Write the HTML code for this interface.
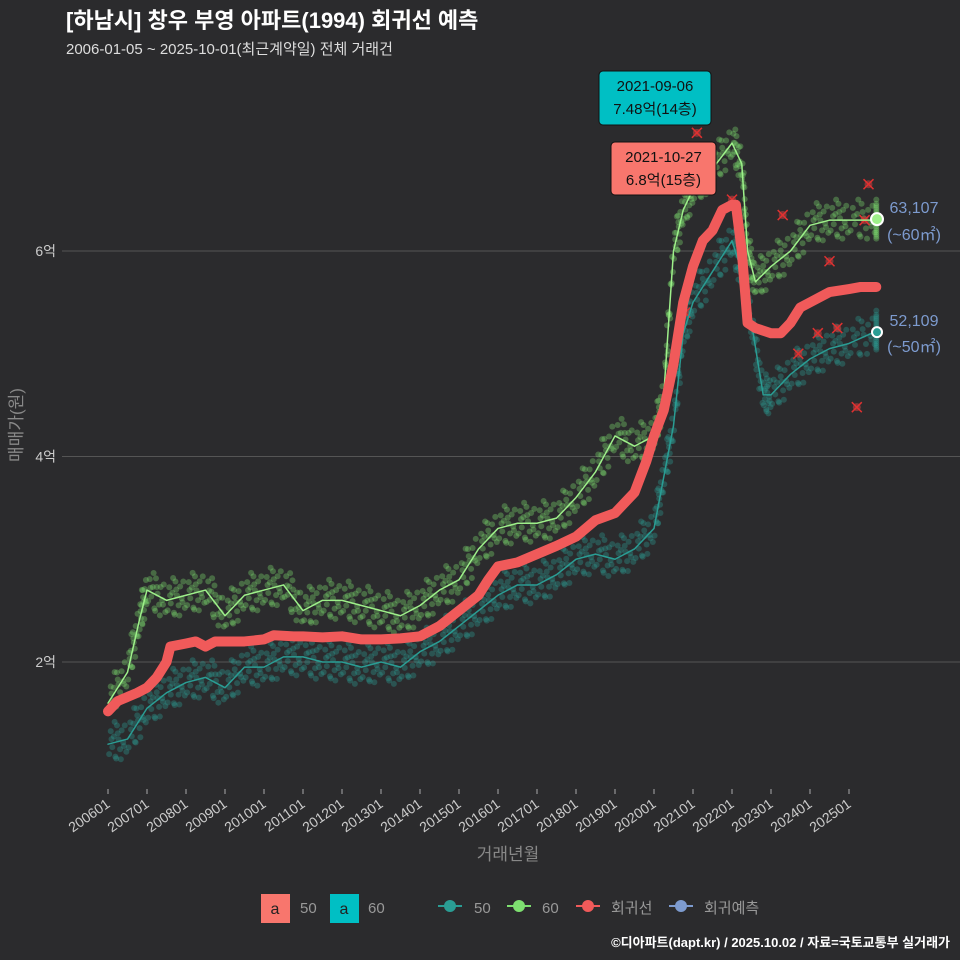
<!DOCTYPE html>
<html><head><meta charset="utf-8"><style>
body{margin:0;background:#2b2b2d;}
svg{display:block;font-family:"Liberation Sans","Noto Sans CJK KR",sans-serif;}
</style></head><body>
<svg id="c" width="960" height="960" viewBox="0 0 960 960">
<rect width="960" height="960" fill="#2b2b2d"/>
<text x="66" y="28" font-size="22" font-weight="bold" fill="#fff">[하남시] 창우 부영 아파트(1994) 회귀선 예측</text>
<text x="66" y="54" font-size="15" fill="#ddd">2006-01-05 ~ 2025-10-01(최근계약일) 전체 거래건</text>
<g id="grid"></g><g id="dots"></g><g id="lines"></g><g id="axes"></g><g id="ann"></g>
<text x="22" y="425" font-size="17" fill="#888" text-anchor="middle" transform="rotate(-90 22 425)">매매가(원)</text>
<text x="508" y="860" font-size="17" fill="#888" text-anchor="middle">거래년월</text>
<g>
<rect x="261" y="894" width="29" height="29" fill="#f8766d"/><text x="275" y="914" font-size="16" text-anchor="middle" fill="#222">a</text><text x="300" y="913" font-size="15" fill="#999">50</text>
<rect x="330" y="894" width="29" height="29" fill="#00bfc4"/><text x="344" y="914" font-size="16" text-anchor="middle" fill="#222">a</text><text x="368" y="913" font-size="15" fill="#999">60</text>
<line x1="438" y1="906" x2="462" y2="906" stroke="#2a9d94" stroke-width="2"/><circle cx="450" cy="906" r="6" fill="#2a9d94"/><text x="474" y="913" font-size="15" fill="#999">50</text>
<line x1="507" y1="906" x2="531" y2="906" stroke="#7ee070" stroke-width="2"/><circle cx="519" cy="906" r="6" fill="#7ee070"/><text x="542" y="913" font-size="15" fill="#999">60</text>
<line x1="576" y1="906" x2="600" y2="906" stroke="#f05a5a" stroke-width="2"/><circle cx="588" cy="906" r="6" fill="#f05a5a"/><text x="611" y="913" font-size="15" fill="#999">회귀선</text>
<line x1="669" y1="906" x2="693" y2="906" stroke="#7d9bcf" stroke-width="2"/><circle cx="681" cy="906" r="6" fill="#7d9bcf"/><text x="704" y="913" font-size="15" fill="#999">회귀예측</text>
</g>
<text x="950" y="947" font-size="13" font-weight="bold" fill="#fff" text-anchor="end">©디아파트(dapt.kr) / 2025.10.02 / 자료=국토교통부 실거래가</text>
</svg>
<script>
const yTicks=[2,4,6];
const yTickLabels=["2억","4억","6억"];
const xTicks=["200601","200701","200801","200901","201001","201101","201201","201301","201401","201501","201601","201701","201801","201901","202001","202101","202201","202301","202401","202501"];
const regT=[2006,2006.25,2006.5,2006.75,2007,2007.25,2007.5,2007.6,2008,2008.25,2008.5,2008.75,2009,2009.5,2010,2010.25,2010.75,2011,2011.5,2012,2012.5,2013,2013.5,2014,2014.5,2015,2015.5,2015.75,2016,2016.5,2017,2017.5,2018,2018.5,2019,2019.5,2019.8,2020,2020.25,2020.5,2020.75,2021,2021.25,2021.5,2021.75,2022,2022.1,2022.25,2022.4,2022.6,2023,2023.25,2023.5,2023.75,2024,2024.5,2025,2025.3,2025.7];
const regV=[1.52,1.62,1.66,1.7,1.75,1.85,2.0,2.15,2.18,2.2,2.15,2.2,2.2,2.2,2.22,2.26,2.25,2.25,2.24,2.25,2.22,2.22,2.23,2.25,2.35,2.5,2.65,2.8,2.93,2.97,3.05,3.13,3.22,3.38,3.45,3.65,3.95,4.2,4.45,4.9,5.5,5.85,6.1,6.2,6.4,6.45,6.45,6.0,5.3,5.25,5.2,5.2,5.3,5.45,5.5,5.6,5.63,5.65,5.65];
const g60T=[2006,2006.5,2006.8,2007,2007.5,2008,2008.5,2009,2009.5,2010,2010.5,2011,2011.5,2012,2012.5,2013,2013.5,2014,2014.5,2015,2015.5,2016,2016.5,2017,2017.5,2018,2018.5,2019,2019.5,2020,2020.25,2020.5,2020.75,2021,2021.5,2022,2022.25,2022.4,2022.6,2023,2023.5,2024,2024.5,2025,2025.7];
const g60V=[1.6,1.9,2.4,2.7,2.6,2.65,2.7,2.45,2.65,2.7,2.75,2.5,2.6,2.6,2.55,2.5,2.45,2.55,2.7,2.8,3.1,3.3,3.35,3.35,3.4,3.6,3.85,4.2,4.1,4.2,4.6,6.0,6.4,6.6,6.8,7.05,6.85,6.0,5.7,5.85,6.0,6.25,6.3,6.3,6.3];
const g50T=[2006,2006.5,2007,2007.5,2008,2008.5,2009,2009.5,2010,2010.5,2011,2011.5,2012,2012.5,2013,2013.5,2014,2014.5,2015,2015.5,2016,2016.5,2017,2017.5,2018,2018.5,2019,2019.5,2020,2020.25,2020.5,2020.75,2021,2021.5,2022,2022.25,2022.5,2022.8,2023,2023.5,2024,2024.5,2025,2025.7];
const g50V=[1.2,1.25,1.55,1.7,1.8,1.85,1.75,1.95,1.95,2.05,2.05,2.0,2.0,1.95,2.0,1.95,2.1,2.2,2.35,2.5,2.65,2.75,2.75,2.85,3.0,3.05,3.0,3.1,3.3,3.8,4.3,5.2,5.5,5.8,6.1,5.8,5.3,4.6,4.6,4.8,4.95,5.05,5.1,5.22];
const xMarkT=[2020.8,2021.1,2022.0,2023.3,2023.7,2024.2,2024.5,2024.7,2025.2,2025.4,2025.5];
const xMarkV=[5.4,7.15,6.5,6.35,5.0,5.2,5.9,5.25,4.48,6.3,6.65];
const X=t=>108+39*(t-2006), Y=v=>662-(v-2)*102.75;
const NS="http://www.w3.org/2000/svg";
function mk(tag,p,a){const e=document.createElementNS(NS,tag);for(const k in a)e.setAttribute(k,a[k]);p.appendChild(e);return e;}
const grid=document.getElementById('grid'),axes=document.getElementById('axes'),dots=document.getElementById('dots'),lines=document.getElementById('lines'),ann=document.getElementById('ann');
yTicks.forEach((v,i)=>{const l=mk('line',grid,{x1:62,x2:960,y1:Y(v),y2:Y(v),stroke:'#555','stroke-width':1});


const t=mk('text',axes,{x:56,y:Y(v)+5,'font-size':14,fill:'#ccc','text-anchor':'end'});t.textContent=yTickLabels[i];

});
xTicks.forEach((s,i)=>{const x=X(2006+i);mk('line',axes,{x1:x,x2:x,y1:789,y2:794,stroke:'#aaa'});
const t=mk('text',axes,{x:x+3,y:806,'font-size':14,fill:'#ccc','text-anchor':'end',transform:`rotate(-35 ${x+3} 806)`});t.textContent=s;

});
const jt=[-0.22,-0.18,-0.14,-0.1,-0.06,-0.02,0.02,0.06,0.1,0.14,0.18,0.22,-0.08,0.08,0,-0.16,0.16,-0.04];
const jv=[-0.1,0.12,-0.04,0.06,-0.14,0.16,0.02,-0.08,0.1,-0.02,0.14,-0.12,0.2,-0.18,0.08,0.04,-0.06,-0.16];
function cloud(T,V,col,name){T.forEach((t,i)=>{jt.forEach((d,k)=>{
const n=i+1<T.length?i+1:i, f=(d+0.25)/0.5*(T[n]-t);
const vv=V[i]+(n>i?(V[n]-V[i])*(f/(T[n]-t||1)):0);
const c=mk('circle',dots,{cx:X(t+f),cy:Y(vv+jv[k]),r:3,fill:col,'fill-opacity':0.35});

});});}
cloud(g50T,g50V,'#2a9d94','dot-50');cloud(g60T,g60V,'#7ee070','dot-60');
function line(T,V,col,w,name){const p=mk('path',lines,{d:T.map((t,i)=>(i?'L':'M')+X(t)+','+Y(V[i])).join(''),fill:'none',stroke:col,'stroke-width':w,'stroke-linejoin':'round','stroke-linecap':'round'});

}
line(g50T,g50V,'#2a9d94',1.5,'line-50');line(g60T,g60V,'#9ef08a',1.5,'line-60');line(regT,regV,'#f05a5a',10,'regression-line');
xMarkT.forEach((t,i)=>{const x=X(t),y=Y(xMarkV[i]);const g=mk('g',dots,{});


mk('circle',g,{cx:x,cy:y,r:4,fill:'#c04040','fill-opacity':0.6});mk('path',g,{d:`M${x-5},${y-5}L${x+5},${y+5}M${x+5},${y-5}L${x-5},${y+5}`,stroke:'#e03030','stroke-width':1.5});});
function box(x,y,w,h,fill,l1,l2,name){const g=mk('g',ann,{});


mk('rect',g,{x,y,width:w,height:h,rx:4,fill,stroke:'#111','stroke-width':1});
mk('text',g,{x:x+w/2,y:y+20,'font-size':15,'text-anchor':'middle',fill:'#111'}).textContent=l1;
mk('text',g,{x:x+w/2,y:y+43,'font-size':15,'text-anchor':'middle',fill:'#111'}).textContent=l2;}
box(599,71,112,54,'#00bfc4','2021-09-06','7.48억(14층)','max-60-callout');
box(611,142,105,53,'#f8766d','2021-10-27','6.8억(15층)','max-50-callout');
mk('circle',ann,{cx:877,cy:Y(6.31),r:6,fill:'#9ef08a',stroke:'#fff','stroke-width':2});
mk('circle',ann,{cx:877,cy:Y(5.21),r:5,fill:'#2a9d94',stroke:'#fff','stroke-width':2});
[['63,107',213],['(~60㎡)',240],['52,109',326],['(~50㎡)',352]].forEach(([s,y])=>{const t=mk('text',ann,{x:914,y,'font-size':16,fill:'#7d9bcf','text-anchor':'middle'});t.textContent=s;

});
</script>
</body></html>
